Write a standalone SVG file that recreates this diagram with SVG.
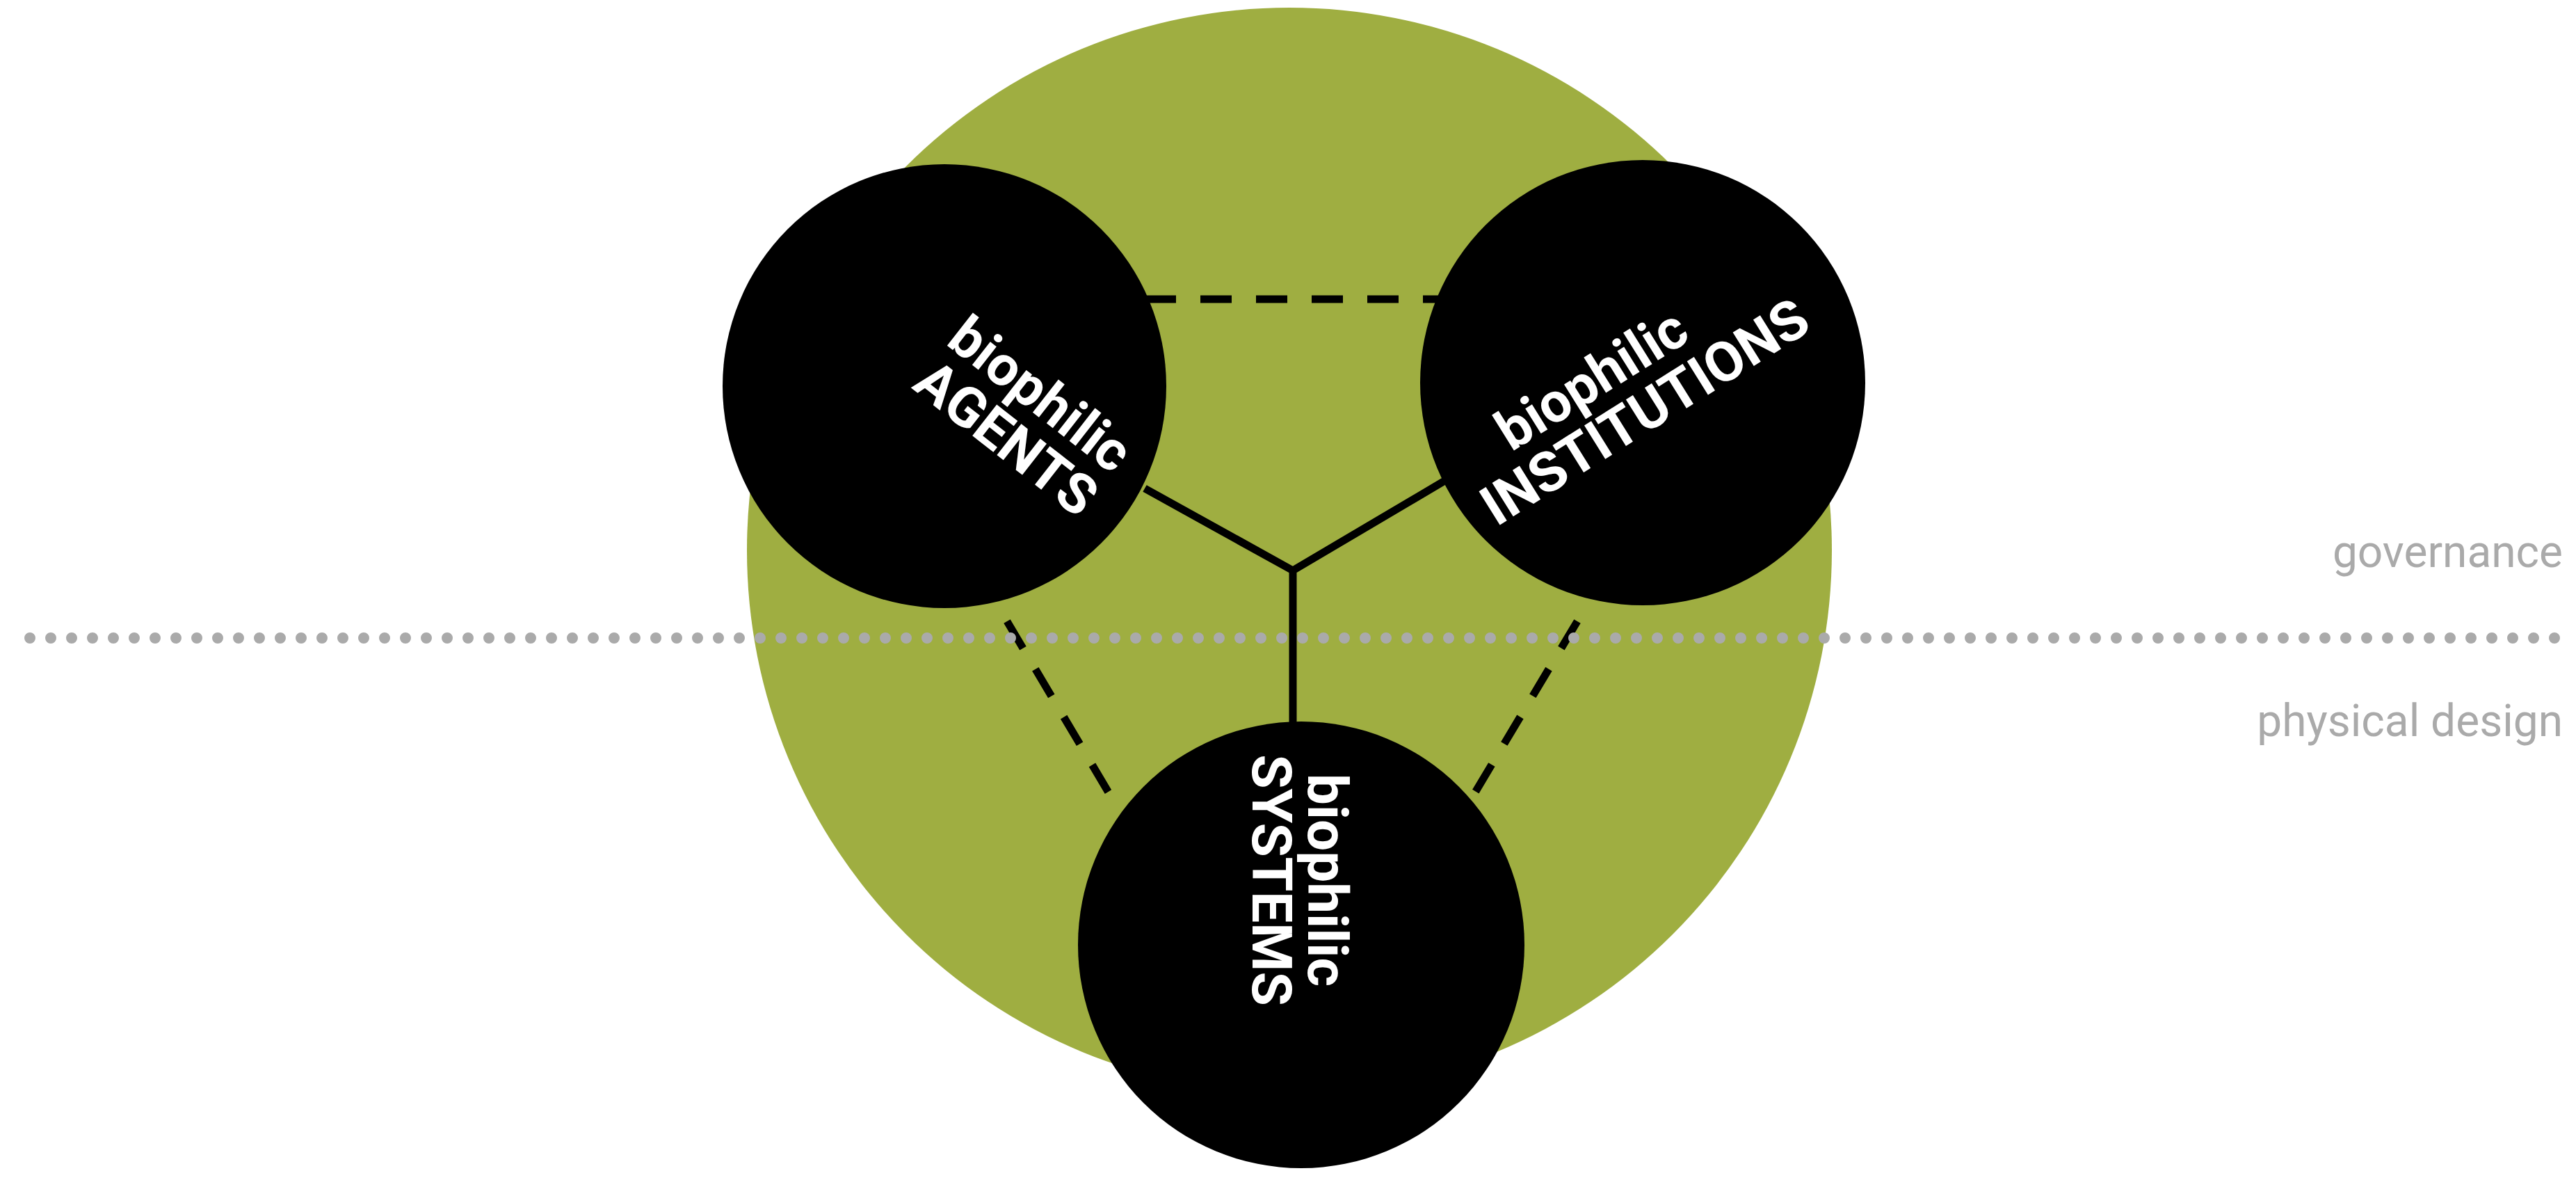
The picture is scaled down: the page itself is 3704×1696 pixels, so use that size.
<svg xmlns="http://www.w3.org/2000/svg" width="3704" height="1696" viewBox="0 0 3704 1696">
<style>
.n{fill:#000}
.t{font-family:Roboto,"Liberation Sans",sans-serif;font-weight:bold;font-size:80px;fill:#fff;text-anchor:middle}
.g{font-family:Roboto,"Liberation Sans",sans-serif;font-size:64px;fill:#aaa;text-anchor:end}
.s{stroke:#000;stroke-width:11;fill:none}
.d{stroke:#000;stroke-width:11;fill:none;stroke-dasharray:45 35}
</style>
<rect width="3704" height="1696" fill="#fff"/>
<circle id="bg" cx="1854" cy="791" r="780" fill="#9fae41"/>
<g id="connectors">
<path class="s" d="M1646 702L1859 820L2079 690M1859 820V1039"/>
<path class="d" d="M1646 430H2072M1448 893L1594 1139M2268 893L2121 1139"/>
</g>
<line x1="43" y1="917" x2="3685" y2="917" stroke="#aaa" stroke-width="16" stroke-linecap="round" stroke-dasharray="0 30"/>
<text class="g" x="3685" y="815">governance</text>
<text class="g" x="3685" y="1058">physical design</text>
<g id="agents"><circle class="n" cx="1358" cy="555" r="319"/>
<text class="t" transform="translate(1470,600) rotate(38)"><tspan x="0" y="-15">biophilic</tspan><tspan x="0" y="65">AGENTS</tspan></text></g>
<g id="institutions"><circle class="n" cx="2362" cy="550" r="320"/>
<text class="t" transform="translate(2345,560) rotate(-32)"><tspan x="-40" y="-15">biophilic</tspan><tspan x="0" y="65">INSTITUTIONS</tspan></text></g>
<g id="systems"><circle class="n" cx="1871" cy="1358" r="321"/>
<text class="t" transform="translate(1866,1265) rotate(90)"><tspan x="0" y="-15">biophilic</tspan><tspan x="0" y="65">SYSTEMS</tspan></text></g>
</svg>
